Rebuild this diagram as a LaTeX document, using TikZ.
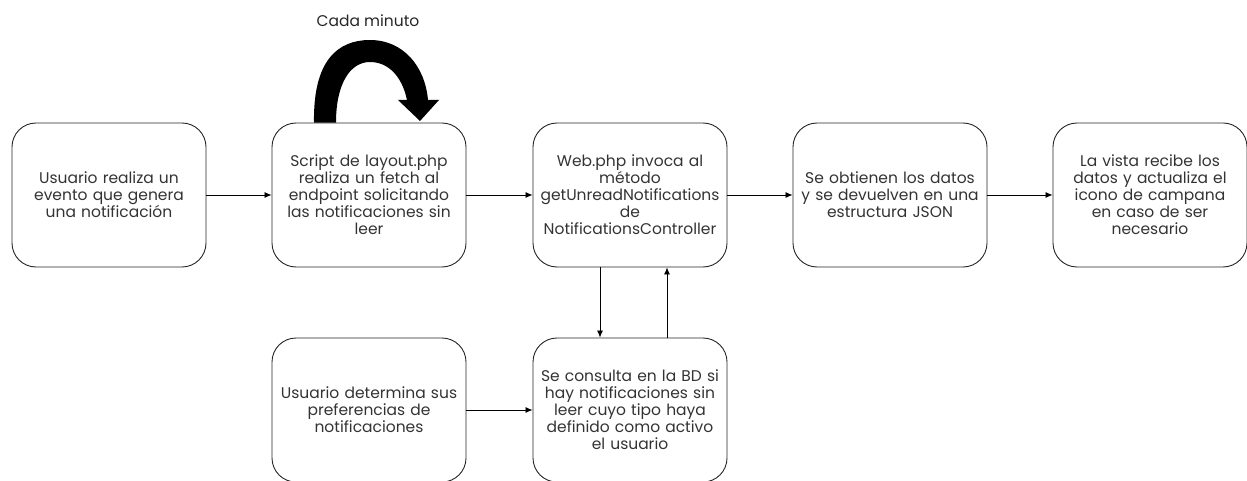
\documentclass[tikz,border=0pt]{standalone}
\usepackage{fontspec}
\setmainfont{Poppins}
\usetikzlibrary{arrows.meta}
\begin{document}
\begin{tikzpicture}[x=1pt,y=-1pt,
  stepbox/.style={draw=black!85,line width=0.9pt,rounded corners=24pt,
    minimum width=194pt,minimum height=144pt,text width=190pt,align=center,
    font=\fontsize{15.5}{17}\selectfont,text=black!80,inner sep=0pt},
  link/.style={draw=black,line width=0.8pt,-{Latex[length=7pt,width=6pt]}}]
\useasboundingbox (0,0) rectangle (1247,481);

\node[stepbox] (evento) at (109,195) {Usuario realiza un\\evento que genera\\una notificación};
\node[stepbox] (script) at (369,195) {Script de layout.php\\realiza un fetch al\\endpoint solicitando\\las notificaciones sin\\leer};
\node[stepbox] (web) at (630,195) {Web.php invoca al\\método\\getUnreadNotifications\\de\\NotificationsController};
\node[stepbox] (datos) at (890,195) {Se obtienen los datos\\y se devuelven en una\\estructura JSON};
\node[stepbox] (vista) at (1150,195) {La vista recibe los\\datos y actualiza el\\icono de campana\\en caso de ser\\necesario};
\node[stepbox] (prefs) at (369,410) {Usuario determina sus\\preferencias de\\notificaciones};
\node[stepbox] (consulta) at (630,410) {Se consulta en la BD si\\hay notificaciones sin\\leer cuyo tipo haya\\definido como activo\\el usuario};

\draw[link] (evento) -- (script);
\draw[link] (script) -- (web);
\draw[link] (web) -- (datos);
\draw[link] (datos) -- (vista);
\draw[link] (prefs) -- (consulta);
\draw[link] (web.south -| 600,0) -- (consulta.north -| 600,0);
\draw[link] (consulta.north -| 667,0) -- (web.south -| 667,0);

% thick curved arrow looping over the script step
\coordinate (loopA) at (script.north -| 314,0);
\coordinate (loopB) at (script.north -| 336,0);
\fill[black] (loopA) .. controls (313,60) and (338,40) .. (370,40)
  .. controls (403,40) and (425,66) .. (428,100)
  -- (439,100) -- (420,121) -- (398,100) -- (407,100)
  .. controls (402,76) and (388,62) .. (370,62)
  .. controls (350,62) and (336,84) .. (loopB) -- cycle;
\node[font=\fontsize{15.5}{17}\selectfont,text=black!85] (cada) at (368,21) {Cada minuto};
\end{tikzpicture}
\end{document}
